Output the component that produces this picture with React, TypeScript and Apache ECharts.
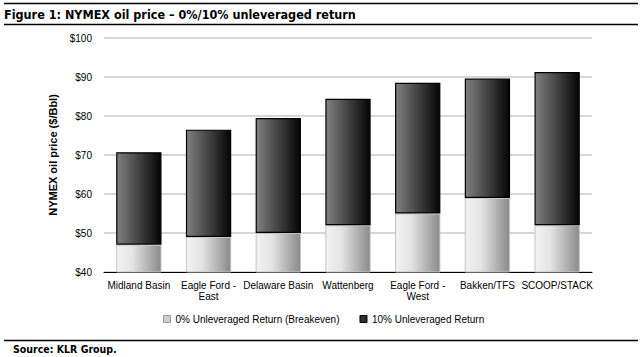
import React, { useEffect, useRef } from "react";
import * as echarts from "echarts";

const categories = [
  "Midland Basin",
  "Eagle Ford -\nEast",
  "Delaware Basin",
  "Wattenberg",
  "Eagle Ford -\nWest",
  "Bakken/TFS",
  "SCOOP/STACK",
];
const breakeven = [47, 49, 50, 52, 55, 59, 52];
const tenPctReturn = [70.7, 76.5, 79.5, 84.4, 88.5, 89.6, 91.3];
const yTicks = { min: 40, max: 100, interval: 10 };

export default function App() {
  const ref = useRef<HTMLDivElement>(null);
  useEffect(() => {
    if (!ref.current) return;
    const chart = echarts.init(ref.current, undefined, { renderer: "svg" });
    const diff = tenPctReturn.map((v, i) => +(v - breakeven[i]).toFixed(2));
    const lightGrad = new echarts.graphic.LinearGradient(0, 0, 1, 0, [
      { offset: 0, color: "#f2f2f2" },
      { offset: 0.35, color: "#e4e4e4" },
      { offset: 1, color: "#8a8a8a" },
    ]);
    const darkGrad = new echarts.graphic.LinearGradient(0, 0, 1, 0, [
      { offset: 0, color: "#808080" },
      { offset: 1, color: "#050505" },
    ]);
    const font = "'Liberation Sans', Arial, sans-serif";
    const condensed = "'DejaVu Sans Condensed', 'DejaVu Sans', sans-serif";
    chart.setOption({
      animation: false,
      backgroundColor: "#fff",
      title: {
        text: "Figure 1: NYMEX oil price \u2013 0%/10% unleveraged return",
        left: 4,
        top: 8,
        padding: 0,
        textStyle: {
          fontFamily: condensed,
          fontWeight: "bold",
          fontSize: 12.5,
          color: "#000",
        },
      },
      graphic: [
        { type: "line", shape: { x1: 4, y1: 3.5, x2: 638, y2: 3.5 }, style: { stroke: "#000", lineWidth: 1.5 } },
        { type: "line", shape: { x1: 4, y1: 24.5, x2: 638, y2: 24.5 }, style: { stroke: "#000", lineWidth: 1.5 } },
        { type: "line", shape: { x1: 4, y1: 340.5, x2: 638, y2: 340.5 }, style: { stroke: "#000", lineWidth: 1.5 } },
        {
          type: "text",
          left: 13,
          top: 343,
          style: {
            text: "Source: KLR Group.",
            fontFamily: condensed,
            fontWeight: "bold",
            fontSize: 10.5,
            fill: "#000",
          },
        },
      ],
      legend: {
        bottom: 28,
        left: 158,
        itemWidth: 7,
        itemHeight: 7,
        itemGap: 20,
        textStyle: { fontFamily: font, fontSize: 10, color: "#000" },
        data: [
          { name: "0% Unleveraged Return (Breakeven)", icon: "rect", itemStyle: { color: "#d0d0d0", borderColor: "#999", borderWidth: 1 } },
          { name: "10% Unleveraged Return", icon: "rect", itemStyle: { color: "#303030", borderColor: "#000", borderWidth: 1 } },
        ],
      },
      grid: { left: 104, right: 50, top: 38, bottom: 85 },
      xAxis: {
        type: "category",
        data: categories,
        axisLine: { lineStyle: { color: "#000", width: 1 } },
        axisTick: { show: false },
        axisLabel: { fontFamily: font, fontSize: 10, color: "#000", margin: 8, interval: 0, lineHeight: 11 },
      },
      yAxis: {
        type: "value",
        min: yTicks.min,
        max: yTicks.max,
        interval: yTicks.interval,
        name: "NYMEX oil price ($/Bbl)",
        nameLocation: "middle",
        nameGap: 37,
        nameTextStyle: { fontFamily: font, fontSize: 11, fontWeight: "bold", color: "#000" },
        axisLine: { show: false },
        axisTick: { show: false },
        axisLabel: { fontFamily: font, fontSize: 10, color: "#000", margin: 12, formatter: (v: number) => "$" + v },
        splitLine: { lineStyle: { color: "#c8c8c8", width: 1.5 } },
      },
      series: [
        {
          name: "0% Unleveraged Return (Breakeven)",
          type: "bar",
          stack: "total",
          barWidth: "65%",
          data: breakeven,
          itemStyle: { color: lightGrad, borderColor: "#c4c4c4", borderWidth: 1 },
        },
        {
          name: "10% Unleveraged Return",
          type: "bar",
          stack: "total",
          barWidth: "65%",
          data: diff,
          itemStyle: { color: darkGrad, borderColor: "#000", borderWidth: 1.2 },
        },
      ],
    });
    return () => chart.dispose();
  }, []);
  return <div ref={ref} style={{ width: 642, height: 357, position: "absolute", left: 0, top: 0 }} />;
}
